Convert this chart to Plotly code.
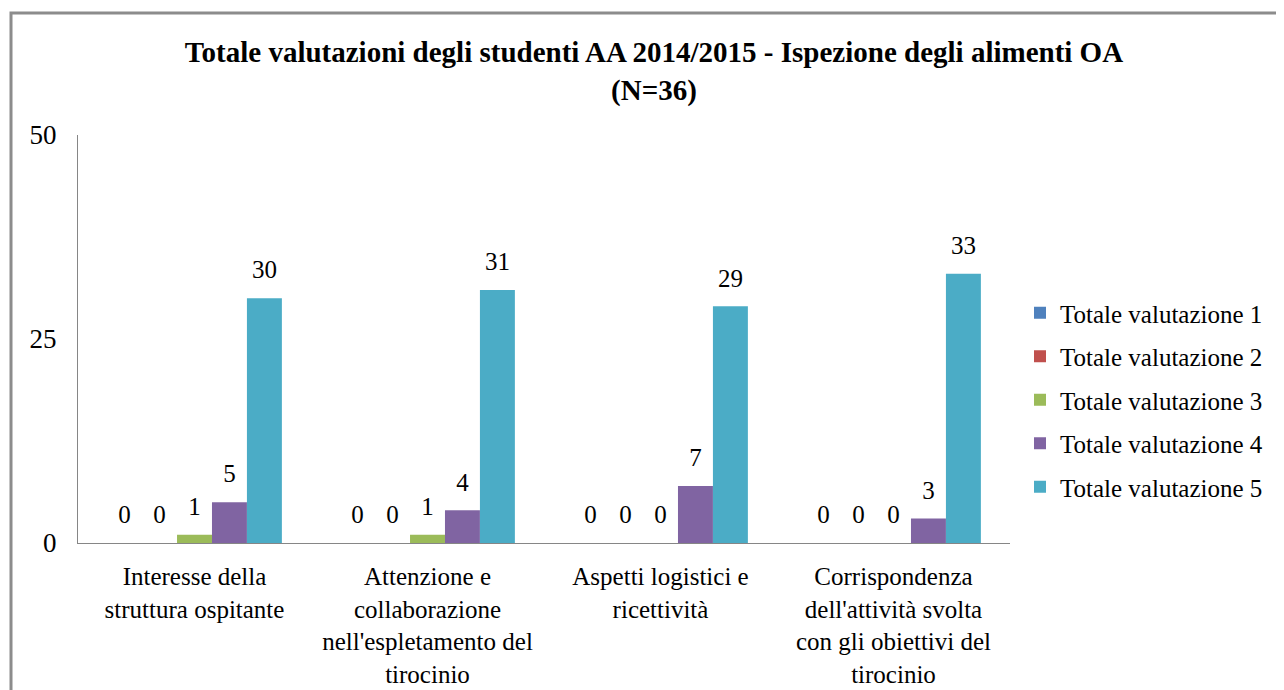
import plotly.graph_objects as go

categories = [
    "Interesse della<br>struttura ospitante",
    "Attenzione e<br>collaborazione<br>nell'espletamento del<br>tirocinio",
    "Aspetti logistici e<br>ricettività",
    "Corrispondenza<br>dell'attività svolta<br>con gli obiettivi del<br>tirocinio",
]
series_names = ["Totale valutazione 1", "Totale valutazione 2", "Totale valutazione 3",
                "Totale valutazione 4", "Totale valutazione 5"]
val1 = [0, 0, 0, 0]
val2 = [0, 0, 0, 0]
val3 = [1, 1, 0, 0]
val4 = [5, 4, 7, 3]
val5 = [30, 31, 29, 33]
colors = ["#4F81BD", "#C0504D", "#9BBB59", "#8064A2", "#4BACC6"]
y_ticks = [0, 25, 50]

FONT = "Liberation Serif, Times New Roman, serif"
BARGAP = 0.25
all_vals = [val1, val2, val3, val4, val5]
n = len(all_vals)
bar_w = (1 - BARGAP) / n
xpos = list(range(len(categories)))

fig = go.Figure()
for i, (name, vals) in enumerate(zip(series_names, all_vals)):
    fig.add_trace(go.Bar(
        x=xpos, y=vals, name=name, marker_color=colors[i],
        marker_line_width=0, legendgroup=f"g{i}",
    ))
# data labels placed above each bar (offset by an invisible marker)
for i, vals in enumerate(all_vals):
    off = (i - (n - 1) / 2) * bar_w
    fig.add_trace(go.Scatter(
        x=[c + off for c in xpos], y=vals, mode="markers+text",
        text=[str(v) for v in vals], textposition="top center",
        textfont=dict(family=FONT, size=25, color="black"),
        marker=dict(size=20, opacity=0), showlegend=False,
        hoverinfo="skip", cliponaxis=False,
    ))

W, H = 1276, 682
L, T = 70, 127
pr, pb = 1002, 535
R, B = W - pr, H - pb
pw, ph = pr - L, pb - T

fig.update_layout(
    width=W, height=H,
    margin=dict(l=L, r=R, t=T, b=B, autoexpand=False),
    paper_bgcolor="white", plot_bgcolor="white",
    barmode="group", bargap=BARGAP, bargroupgap=0,
    font=dict(family=FONT, size=25, color="black"),
    title=dict(
        text="<b>Totale valutazioni degli studenti AA 2014/2015 - Ispezione degli alimenti OA<br>(N=36)</b>",
        x=646 / W, xanchor="center", y=1 - 54 / H, yanchor="top",
        font=dict(family=FONT, size=29, color="black"),
    ),
    legend=dict(
        x=1 + 10 / pw, xanchor="left", y=(pb - 392) / ph, yanchor="middle",
        font=dict(family=FONT, size=25, color="black"),
        tracegroupgap=8, traceorder="grouped",
    ),
    showlegend=True,
)
fig.update_yaxes(
    range=[0, 50], tickvals=y_ticks, showgrid=False, zeroline=False,
    showline=True, linecolor="#868686", linewidth=1, automargin=False,
    ticks="", tickfont=dict(family=FONT, size=27), ticklabelstandoff=15,
)
fig.update_xaxes(
    range=[-0.5, len(categories) - 0.5],
    tickvals=xpos, ticktext=categories, automargin=False,
    showgrid=False, zeroline=False, showline=True, linecolor="#868686", linewidth=1,
    ticks="", tickfont=dict(family=FONT, size=25), tickangle=0,
    ticklabelstandoff=11,
)

# outer chart border
fig.add_shape(
    type="rect", xref="paper", yref="paper",
    x0=(3 - L) / pw, x1=(W + 20 - L) / pw,
    y0=-(H + 20 - pb) / ph, y1=(pb - 5) / ph,
    line=dict(color="#8C8C8C", width=3), fillcolor="rgba(0,0,0,0)", layer="below",
)

fig.write_html("out.html")
